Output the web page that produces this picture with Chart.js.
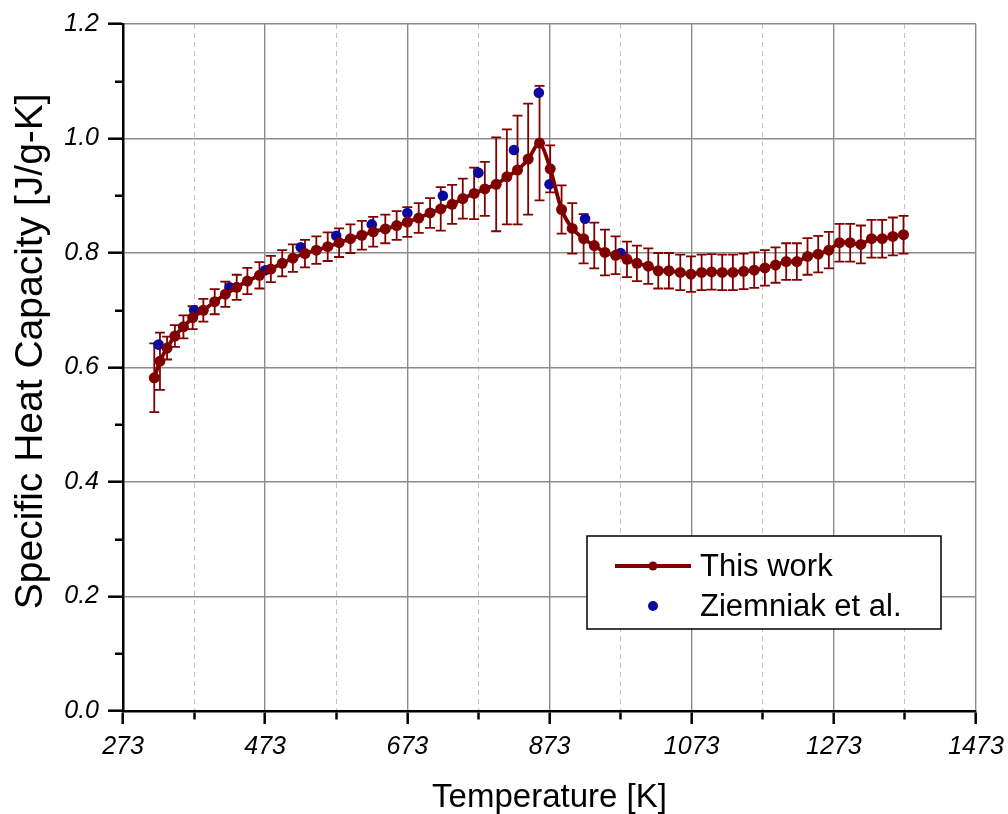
<!DOCTYPE html>
<html>
<head>
<meta charset="utf-8">
<title>Specific Heat Capacity</title>
<script src="https://cdn.jsdelivr.net/npm/chart.js@4.4.0/dist/chart.umd.min.js"></script>
<style>
    html, body { margin: 0; padding: 0; background: #fff; }
    #heatChart { display: block; }
</style>
</head>
<body>
<canvas id="heatChart" width="1008" height="814"></canvas>
<script>
// This work: temperature [K], cp [J/g-K], error bar (+/-)
const tempWork = [317, 325, 335, 346, 358, 371, 386, 402, 417, 433, 448, 465, 481, 497, 512, 529, 545, 561, 577, 593,
    609, 625, 642, 658, 673, 689, 705, 720, 736, 751, 767, 782, 798, 813, 828, 843, 859, 874, 890, 905,
    921, 936, 951, 966, 982, 996, 1012, 1026, 1041, 1057, 1072, 1087, 1101, 1116, 1131, 1146, 1161, 1176, 1191, 1206,
    1221, 1236, 1251, 1266, 1281, 1296, 1311, 1326, 1341, 1356, 1371];
const cpWork = [0.582, 0.611, 0.634, 0.655, 0.671, 0.687, 0.700, 0.715, 0.728, 0.740, 0.751, 0.761, 0.772, 0.782, 0.791, 0.799, 0.805, 0.811, 0.818, 0.825,
    0.831, 0.837, 0.842, 0.848, 0.854, 0.861, 0.870, 0.877, 0.885, 0.895, 0.904, 0.912, 0.920, 0.933, 0.945, 0.964, 0.992, 0.947, 0.876, 0.843,
    0.825, 0.813, 0.801, 0.796, 0.789, 0.782, 0.777, 0.769, 0.769, 0.766, 0.763, 0.766, 0.767, 0.766, 0.766, 0.768, 0.770, 0.774, 0.779, 0.785,
    0.785, 0.794, 0.798, 0.805, 0.818, 0.818, 0.815, 0.825, 0.825, 0.829, 0.832];
const errWork = [0.060, 0.050, 0.020, 0.019, 0.020, 0.020, 0.020, 0.022, 0.022, 0.022, 0.023, 0.023, 0.023, 0.023, 0.024, 0.024, 0.024, 0.025, 0.025, 0.025,
    0.025, 0.026, 0.025, 0.025, 0.026, 0.026, 0.026, 0.038, 0.034, 0.035, 0.045, 0.047, 0.082, 0.083, 0.095, 0.097, 0.100, 0.041, 0.042, 0.044,
    0.043, 0.040, 0.040, 0.033, 0.031, 0.031, 0.031, 0.031, 0.031, 0.031, 0.031, 0.031, 0.031, 0.031, 0.031, 0.031, 0.031, 0.031, 0.031, 0.032,
    0.032, 0.032, 0.032, 0.032, 0.033, 0.033, 0.033, 0.033, 0.033, 0.033, 0.033];

// Ziemniak et al.
const tempZiem = [323, 373, 423, 473, 523, 573, 623, 673, 723, 773, 823, 858, 873, 923, 973];
const cpZiem = [0.64, 0.70, 0.74, 0.77, 0.81, 0.83, 0.85, 0.87, 0.90, 0.94, 0.98, 1.08, 0.92, 0.86, 0.80];

// axis ticks (major + minor) and their labels
const xTicks = [273, 373, 473, 573, 673, 773, 873, 973, 1073, 1173, 1273, 1373, 1473];
const xLabels = ['273', '', '473', '', '673', '', '873', '', '1073', '', '1273', '', '1473'];
const yTicks = [0, 0.1, 0.2, 0.3, 0.4, 0.5, 0.6, 0.7, 0.8, 0.9, 1.0, 1.1, 1.2];
const yLabels = ['0.0', '', '0.2', '', '0.4', '', '0.6', '', '0.8', '', '1.0', '', '1.2'];

const RED = '#800000';
const BLUE = '#0a0aa0';
const FONT = "'Liberation Sans', Arial, sans-serif";

function isMinor(ctx, labels) {
    return ctx.tick ? labels[ctx.index] === '' : false;
}

const errorBars = {
    id: 'errorBars',
    beforeDatasetsDraw(chart) {
        const { ctx, scales: { x, y } } = chart;
        ctx.save();
        ctx.strokeStyle = RED;
        ctx.lineWidth = 1.8;
        tempWork.forEach((t, i) => {
            const px = x.getPixelForValue(t);
            const top = y.getPixelForValue(cpWork[i] + errWork[i]);
            const bot = y.getPixelForValue(cpWork[i] - errWork[i]);
            ctx.beginPath();
            ctx.moveTo(px, top); ctx.lineTo(px, bot);
            ctx.moveTo(px - 5, top); ctx.lineTo(px + 5, top);
            ctx.moveTo(px - 5, bot); ctx.lineTo(px + 5, bot);
            ctx.stroke();
        });
        ctx.restore();
    }
};

const boxLegend = {
    id: 'boxLegend',
    afterDraw(chart) {
        const { ctx, chartArea } = chart;
        const left = chartArea.left + 464, top = chartArea.top + 512;
        const w = 354, h = 93;
        ctx.save();
        ctx.fillStyle = '#fff';
        ctx.fillRect(left, top, w, h);
        ctx.strokeStyle = '#000';
        ctx.lineWidth = 1.5;
        ctx.strokeRect(left, top, w, h);

        const rows = [top + 30, top + 70];
        const mx = left + 66;
        chart.data.datasets.forEach((ds, i) => {
            const ry = rows[i];
            if (ds.showLine !== false) {
                ctx.strokeStyle = ds.borderColor;
                ctx.lineWidth = 3.8;
                ctx.beginPath();
                ctx.moveTo(left + 28, ry);
                ctx.lineTo(left + 104, ry);
                ctx.stroke();
            }
            ctx.fillStyle = ds.pointBackgroundColor;
            ctx.beginPath();
            ctx.arc(mx, ry, ds.showLine !== false ? 4.5 : 5, 0, Math.PI * 2);
            ctx.fill();
            ctx.fillStyle = '#000';
            ctx.font = '31px ' + FONT;
            ctx.textBaseline = 'middle';
            ctx.fillText(ds.label, left + 113, ry + 1);
        });
        ctx.restore();
    }
};

new Chart(document.getElementById('heatChart').getContext('2d'), {
    type: 'line',
    data: {
        datasets: [
            {
                label: 'This work',
                data: tempWork.map((t, i) => ({ x: t, y: cpWork[i] })),
                borderColor: RED,
                backgroundColor: RED,
                pointBackgroundColor: RED,
                pointBorderWidth: 0,
                pointRadius: 5.5,
                borderWidth: 3.8,
                tension: 0.3
            },
            {
                label: 'Ziemniak et al.',
                data: tempZiem.map((t, i) => ({ x: t, y: cpZiem[i] })),
                showLine: false,
                borderColor: BLUE,
                backgroundColor: BLUE,
                pointBackgroundColor: BLUE,
                pointBorderWidth: 0,
                pointRadius: 5.3
            }
        ]
    },
    options: {
        responsive: false,
        animation: false,
        devicePixelRatio: 1,
        layout: { padding: { top: 24, right: 32, left: 0, bottom: 0 } },
        plugins: {
            legend: { display: false },
            tooltip: { enabled: false }
        },
        scales: {
            x: {
                type: 'linear',
                min: 273,
                max: 1473,
                afterBuildTicks: (scale) => { scale.ticks = xTicks.map(v => ({ value: v })); },
                afterFit: (scale) => {
                    scale.height = 103;
                    // labels overhang is already covered by the layout padding
                    scale.paddingLeft = 0;
                    scale.paddingRight = 0;
                },
                ticks: {
                    autoSkip: false,
                    maxRotation: 0,
                    padding: 8,
                    color: '#000',
                    font: { family: FONT, size: 25, style: 'italic' },
                    callback: (value, index) => xLabels[index]
                },
                grid: {
                    color: (ctx) => isMinor(ctx, xLabels) ? '#c4c4c4' : '#8c8c8c',
                    lineWidth: (ctx) => isMinor(ctx, xLabels) ? 1 : 1.4,
                    tickColor: '#000',
                    tickWidth: 2.5,
                    tickLength: 13,
                    tickBorderDash: (ctx) => isMinor(ctx, xLabels) ? [7, 100] : []
                },
                border: {
                    color: '#000',
                    width: 2.5,
                    dash: (ctx) => isMinor(ctx, xLabels) ? [5, 4] : []
                },
                title: {
                    display: true,
                    text: 'Temperature [K]',
                    color: '#000',
                    font: { family: FONT, size: 33, lineHeight: 1 },
                    padding: { top: 0, bottom: 0 }
                }
            },
            y: {
                min: 0,
                max: 1.2,
                afterBuildTicks: (scale) => { scale.ticks = yTicks.map(v => ({ value: v })); },
                afterFit: (scale) => { scale.width = 123; },
                ticks: {
                    autoSkip: false,
                    padding: 9,
                    color: '#000',
                    font: { family: FONT, size: 25, style: 'italic' },
                    callback: (value, index) => yLabels[index]
                },
                grid: {
                    color: (ctx) => isMinor(ctx, yLabels) ? 'rgba(0,0,0,0)' : '#8c8c8c',
                    lineWidth: 1.4,
                    tickColor: '#000',
                    tickWidth: 2.5,
                    tickLength: 15,
                    tickBorderDash: (ctx) => isMinor(ctx, yLabels) ? [0, 7, 8, 100] : []
                },
                border: {
                    color: '#000',
                    width: 2.5
                },
                title: {
                    display: true,
                    // leading spaces nudge the centred title up a bit, like the original
                    text: '   Specific Heat Capacity [J/g-K]',
                    color: '#000',
                    font: { family: FONT, size: 39, lineHeight: 1 },
                    padding: { top: 12, bottom: 0 }
                }
            }
        }
    },
    plugins: [errorBars, boxLegend]
});
</script>
</body>
</html>
